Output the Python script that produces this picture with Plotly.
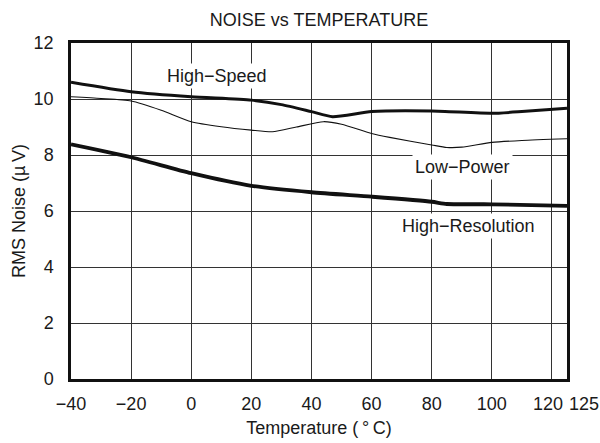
import plotly.graph_objects as go

# Noise vs temperature for the three operating modes
temps_high_speed = [-40, -20, 0, 20, 30, 40, 47, 60, 80, 100, 110, 125]
noise_high_speed = [10.6, 10.26, 10.08, 9.96, 9.8, 9.55, 9.37, 9.55, 9.57, 9.49, 9.55, 9.67]

temps_low_power = [-40, -30, -20, -10, 0, 10, 20, 27, 35, 44, 50, 60, 66, 80, 85, 90, 100, 110, 125]
noise_low_power = [10.08, 10.02, 9.93, 9.6, 9.19, 9.01, 8.89, 8.83, 9.0, 9.19, 9.1, 8.77, 8.63,
                   8.36, 8.27, 8.28, 8.45, 8.52, 8.58]

temps_high_res = [-40, -20, 0, 20, 40, 60, 80, 85, 100, 125]
noise_high_res = [8.38, 7.92, 7.35, 6.9, 6.67, 6.51, 6.33, 6.25, 6.24, 6.18]

x_tick_vals = [-40, -20, 0, 20, 40, 60, 80, 100, 120, 125]
x_tick_text = ["\u221240", "\u221220", "0", "20", "40", "60", "80", "100", "120", "125"]
# the last two labels sit side by side instead of centred on their ticks
crowded_ticks = {120: "right", 125: "left"}
y_tick_vals = [0, 2, 4, 6, 8, 10, 12]

series_labels = ["High\u2212Speed", "Low\u2212Power", "High\u2212Resolution"]
label_pos = [(8.7, 10.83), (90.2, 7.58), (92.1, 5.46)]

FONT = "Liberation Sans, Arial, Helvetica, sans-serif"
INK = "#1a1a1a"
X_MIN, X_MAX = -40, 125

fig = go.Figure()
fig.add_trace(go.Scatter(x=temps_high_speed, y=noise_high_speed, mode="lines",
                         line=dict(color="#111", width=3, shape="spline", smoothing=0.6)))
fig.add_trace(go.Scatter(x=temps_low_power, y=noise_low_power, mode="lines",
                         line=dict(color="#111", width=1.1, shape="spline", smoothing=0.6)))
fig.add_trace(go.Scatter(x=temps_high_res, y=noise_high_res, mode="lines",
                         line=dict(color="#111", width=3.8, shape="spline", smoothing=0.6)))

for text, (xv, yv) in zip(series_labels, label_pos):
    fig.add_annotation(x=xv, y=yv, text=text, showarrow=False,
                       font=dict(family=FONT, size=18, color=INK),
                       bgcolor="white", borderpad=2)

shown_tick_text = []
for val, txt in zip(x_tick_vals, x_tick_text):
    if val in crowded_ticks:
        shown_tick_text.append("")
        anchor = crowded_ticks[val]
        fig.add_annotation(x=X_MAX, xref="x", y=0, yref="paper", yanchor="middle",
                           yshift=-25, xshift=-2 if anchor == "right" else 0,
                           xanchor=anchor, text=txt, showarrow=False,
                           font=dict(family=FONT, size=18, color=INK))
    else:
        shown_tick_text.append(txt)

fig.update_layout(
    width=600, height=443,
    margin=dict(l=71, r=33, t=43, b=64),
    paper_bgcolor="white", plot_bgcolor="white",
    showlegend=False,
    font=dict(family=FONT, size=18, color=INK),
    title=dict(text="NOISE vs TEMPERATURE", x=0.5, xref="paper",
               y=1 - 20 / 443, yref="container", yanchor="middle",
               font=dict(family=FONT, size=18, color=INK)),
    xaxis=dict(range=[X_MIN, X_MAX], tickvals=x_tick_vals, ticktext=shown_tick_text,
               tickangle=0, tickfont=dict(size=18), automargin=False,
               showgrid=True, gridcolor="#333", gridwidth=1,
               showline=True, linecolor="#111", linewidth=2.5, mirror=True,
               ticks="", ticklabelstandoff=7, zeroline=False,
               title=dict(text="Temperature (\u2009\u00b0\u2009C)", standoff=9,
                          font=dict(size=18))),
    yaxis=dict(range=[0, 12], tickvals=y_tick_vals, tickfont=dict(size=18),
               automargin=False,
               showgrid=True, gridcolor="#333", gridwidth=1,
               showline=True, linecolor="#111", linewidth=2.5, mirror=True,
               ticks="", ticklabelstandoff=11, zeroline=False,
               title=dict(text="RMS Noise (\u00b5\u2009V)", standoff=4,
                          font=dict(size=18))),
)

fig.write_html("out.html")
